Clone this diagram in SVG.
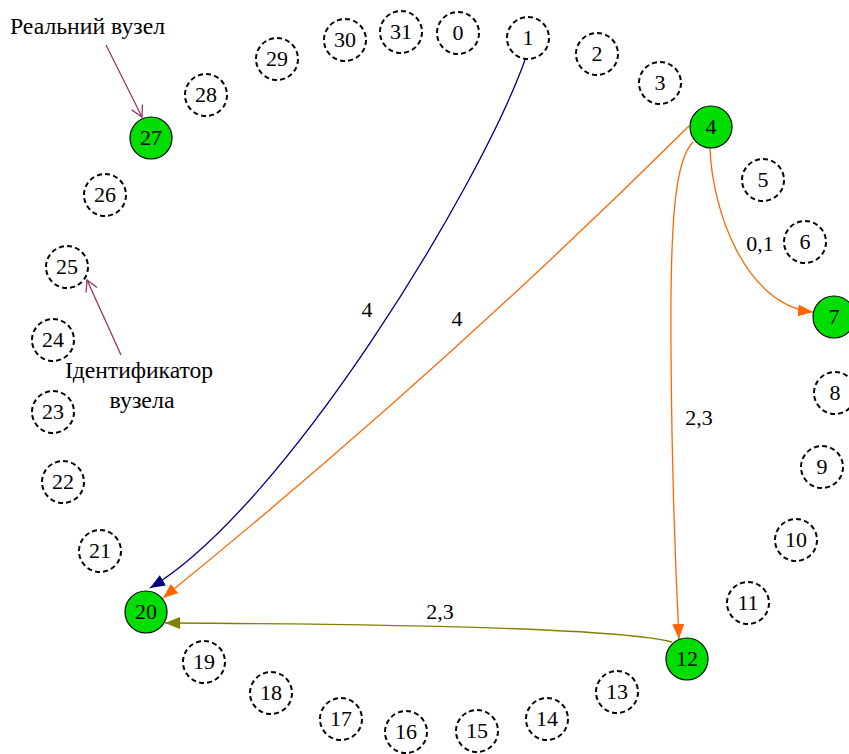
<svg xmlns="http://www.w3.org/2000/svg" width="849" height="754" viewBox="0 0 849 754" font-family="'Liberation Serif', 'Times New Roman', Tinos, 'DejaVu Serif', serif">
<style>
text{font-family:'Liberation Serif','Times New Roman',Tinos,'DejaVu Serif',serif;font-size:22px;fill:#000}
.n text{text-anchor:middle}
.d circle{fill:#fff;stroke:#000;stroke-width:2;stroke-dasharray:5,3.2}
.g circle{fill:#00dd00;stroke:#000;stroke-width:1.2}
.e{fill:none;stroke-width:1.3}
.lbl{text-anchor:middle}
.note{font-size:23px}
</style>
<defs>
<marker id="aNavy" markerUnits="userSpaceOnUse" markerWidth="16" markerHeight="12" refX="15" refY="6" orient="auto"><path d="M0,0 L15,6 L0,12 z" fill="#000080"/></marker>
<marker id="aOr" markerUnits="userSpaceOnUse" markerWidth="16" markerHeight="12" refX="15" refY="6" orient="auto"><path d="M0,0 L15,6 L0,12 z" fill="#ff6600"/></marker>
<marker id="aOl" markerUnits="userSpaceOnUse" markerWidth="16" markerHeight="12" refX="15" refY="6" orient="auto"><path d="M0,0 L15,6 L0,12 z" fill="#808000"/></marker>
<marker id="aV" markerUnits="userSpaceOnUse" markerWidth="14" markerHeight="14" refX="12" refY="7" orient="auto"><path d="M1,1 L12,7 L1,13" fill="none" stroke="#993366" stroke-width="1.3"/></marker>
</defs>
<g id="connectors">
<path class="e" stroke="#000080" d="M525,60 C478,190 285,507 150,588" marker-end="url(#aNavy)"/>
<path class="e" stroke="#ff6600" d="M689,126 Q438,375 163,598" marker-end="url(#aOr)"/>
<path class="e" stroke="#ff6600" d="M693,142 C675,160 670,220 671,350 C672,500 676,580 679,639" marker-end="url(#aOr)"/>
<path class="e" stroke="#ff6600" d="M710,148 C712,210 745,305 813,312" marker-end="url(#aOr)"/>
<path class="e" stroke="#808000" d="M672,642 C620,628 400,624 165,623" marker-end="url(#aOl)"/>
<path class="e" stroke="#993366" d="M106,45 L142,117" marker-end="url(#aV)"/>
<path class="e" stroke="#993366" d="M121,355 L87,280" marker-end="url(#aV)"/>
</g>
<g id="labels">
<text class="lbl" x="367" y="317">4</text>
<text class="lbl" x="457" y="326">4</text>
<text class="lbl" x="699" y="425">2,3</text>
<text class="lbl" x="760" y="251">0,1</text>
<text class="lbl" x="440" y="619">2,3</text>
<text class="note" x="10" y="34" textLength="155" lengthAdjust="spacingAndGlyphs">Реальний вузел</text>
<text class="lbl note" x="139" y="378" textLength="148" lengthAdjust="spacingAndGlyphs">Ідентификатор</text>
<text class="lbl note" x="142" y="408" textLength="65" lengthAdjust="spacingAndGlyphs">вузела</text>
</g>
<g id="n0" class="n d"><circle cx="458" cy="33" r="21"/><text x="458" y="40">0</text></g>
<g id="n1" class="n d"><circle cx="528" cy="38" r="21"/><text x="528" y="45">1</text></g>
<g id="n2" class="n d"><circle cx="597" cy="54" r="21"/><text x="597" y="61">2</text></g>
<g id="n3" class="n d"><circle cx="660" cy="83" r="21"/><text x="660" y="90">3</text></g>
<g id="n4" class="n g"><circle cx="711" cy="127" r="21"/><text x="711" y="134">4</text></g>
<g id="n5" class="n d"><circle cx="763" cy="180" r="21"/><text x="763" y="187">5</text></g>
<g id="n6" class="n d"><circle cx="805" cy="242" r="21"/><text x="805" y="249">6</text></g>
<g id="n7" class="n g"><circle cx="834" cy="317" r="21"/><text x="834" y="324">7</text></g>
<g id="n8" class="n d"><circle cx="835" cy="393" r="21"/><text x="835" y="400">8</text></g>
<g id="n9" class="n d"><circle cx="822" cy="467" r="21"/><text x="822" y="474">9</text></g>
<g id="n10" class="n d"><circle cx="796" cy="540" r="21"/><text x="796" y="547">10</text></g>
<g id="n11" class="n d"><circle cx="748" cy="603" r="21"/><text x="748" y="610">11</text></g>
<g id="n12" class="n g"><circle cx="687" cy="659" r="21"/><text x="687" y="666">12</text></g>
<g id="n13" class="n d"><circle cx="617" cy="692" r="21"/><text x="617" y="699">13</text></g>
<g id="n14" class="n d"><circle cx="547" cy="719" r="21"/><text x="547" y="726">14</text></g>
<g id="n15" class="n d"><circle cx="477" cy="731" r="21"/><text x="477" y="738">15</text></g>
<g id="n16" class="n d"><circle cx="406" cy="732" r="21"/><text x="406" y="739">16</text></g>
<g id="n17" class="n d"><circle cx="341" cy="719" r="21"/><text x="341" y="726">17</text></g>
<g id="n18" class="n d"><circle cx="271" cy="693" r="21"/><text x="271" y="700">18</text></g>
<g id="n19" class="n d"><circle cx="204" cy="662" r="21"/><text x="204" y="669">19</text></g>
<g id="n20" class="n g"><circle cx="146" cy="612" r="21"/><text x="146" y="619">20</text></g>
<g id="n21" class="n d"><circle cx="100" cy="551" r="21"/><text x="100" y="558">21</text></g>
<g id="n22" class="n d"><circle cx="63" cy="482" r="21"/><text x="63" y="489">22</text></g>
<g id="n23" class="n d"><circle cx="53" cy="412" r="21"/><text x="53" y="419">23</text></g>
<g id="n24" class="n d"><circle cx="53" cy="340" r="21"/><text x="53" y="347">24</text></g>
<g id="n25" class="n d"><circle cx="67" cy="267" r="21"/><text x="67" y="274">25</text></g>
<g id="n26" class="n d"><circle cx="105" cy="195" r="21"/><text x="105" y="202">26</text></g>
<g id="n27" class="n g"><circle cx="151" cy="138" r="21"/><text x="151" y="145">27</text></g>
<g id="n28" class="n d"><circle cx="206" cy="95" r="21"/><text x="206" y="102">28</text></g>
<g id="n29" class="n d"><circle cx="277" cy="59" r="21"/><text x="277" y="66">29</text></g>
<g id="n30" class="n d"><circle cx="345" cy="40" r="21"/><text x="345" y="47">30</text></g>
<g id="n31" class="n d"><circle cx="401" cy="32" r="21"/><text x="401" y="39">31</text></g>
</svg>
